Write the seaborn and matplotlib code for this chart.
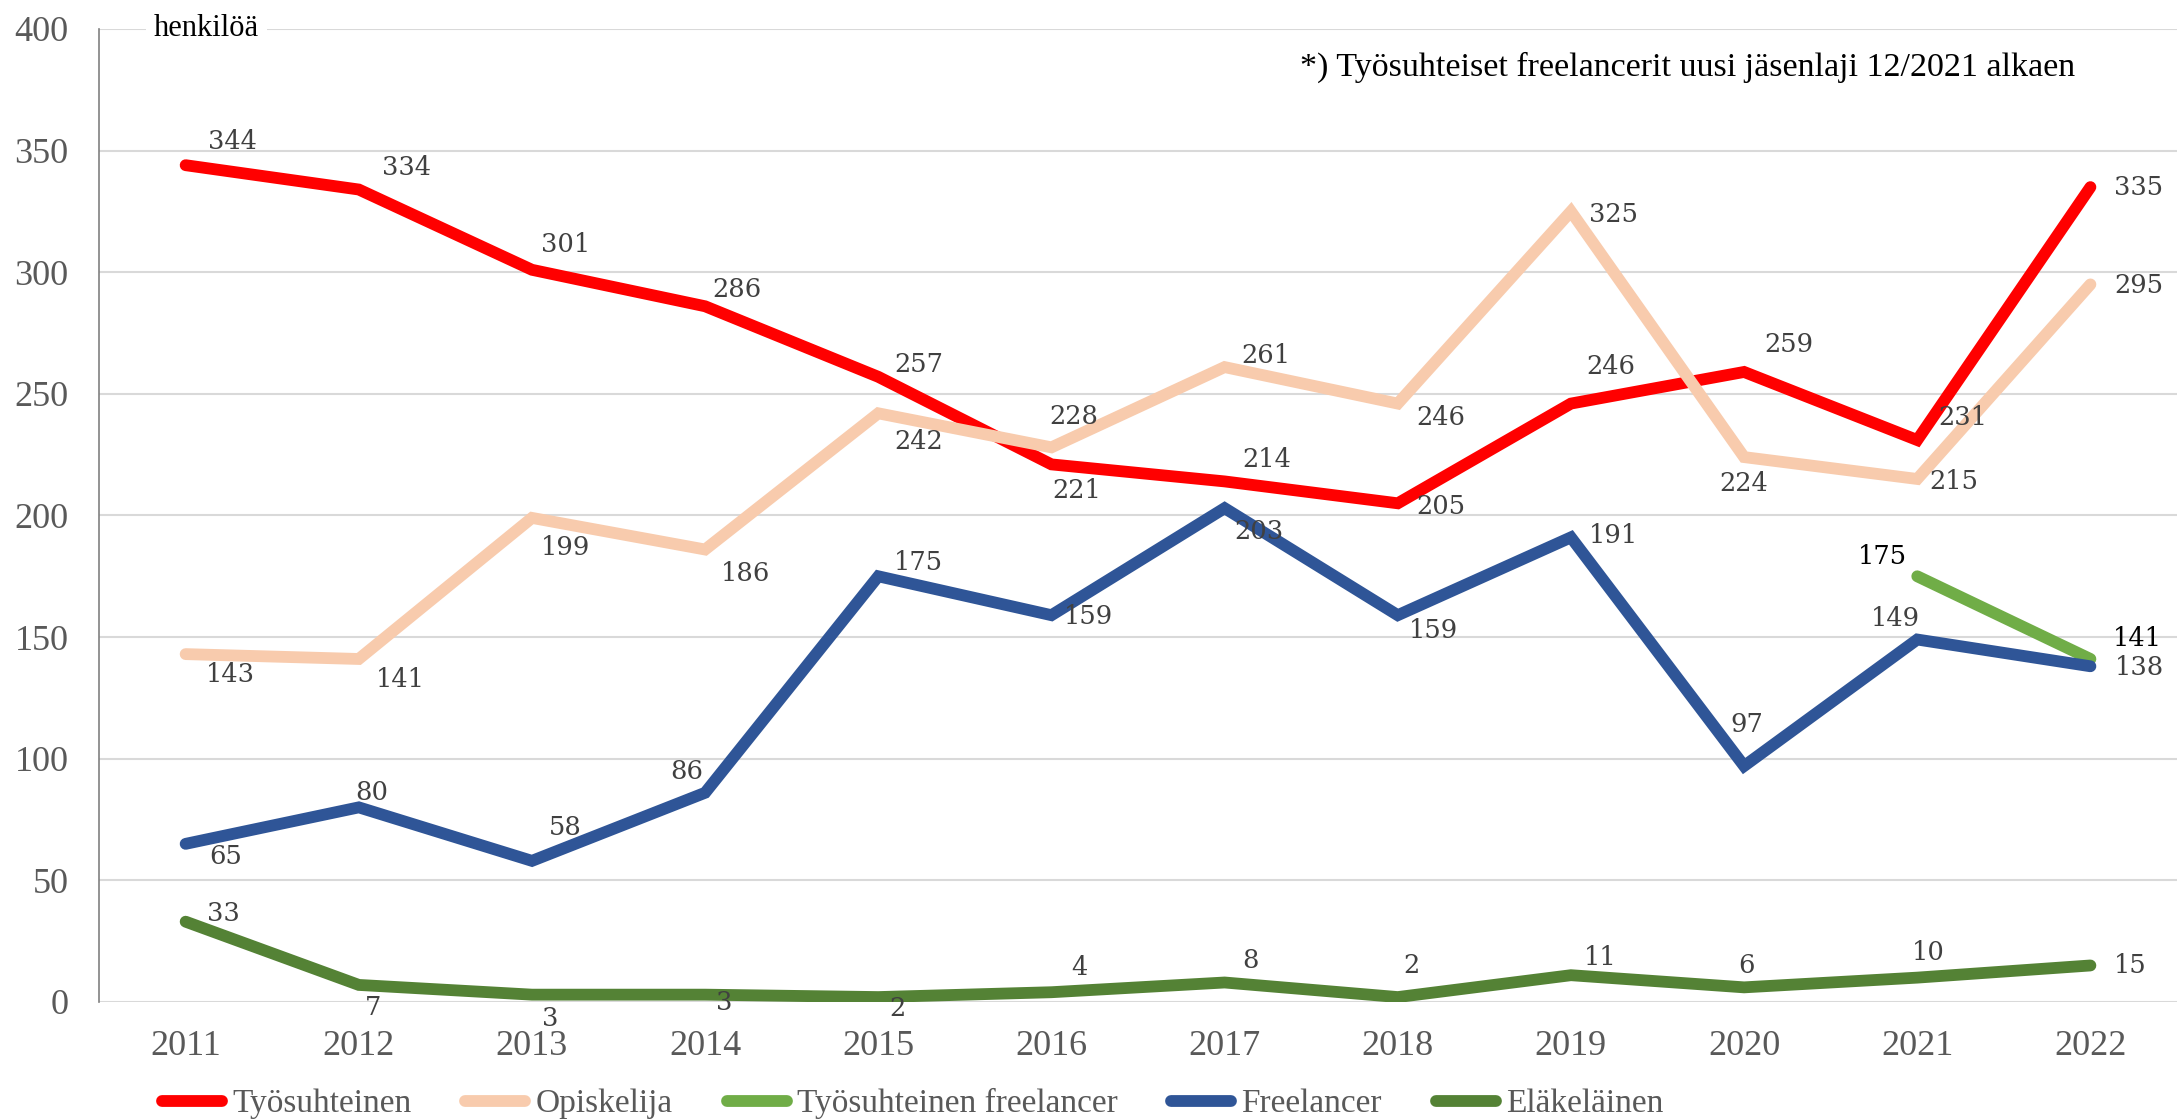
import pandas as pd
import numpy as np
import matplotlib
matplotlib.use("Agg")
import matplotlib.pyplot as plt
import seaborn as sns

# Data
years = [2011, 2012, 2013, 2014, 2015, 2016, 2017, 2018, 2019, 2020, 2021, 2022]
tyosuhteinen = [344, 334, 301, 286, 257, 221, 214, 205, 246, 259, 231, 335]
opiskelija = [143, 141, 199, 186, 242, 228, 261, 246, 325, 224, 215, 295]
ts_freelancer = [None] * 10 + [175, 141]
freelancer = [65, 80, 58, 86, 175, 159, 203, 159, 191, 97, 149, 138]
elakelainen = [33, 7, 3, 3, 2, 4, 8, 2, 11, 6, 10, 15]

series_names = ["Työsuhteinen", "Opiskelija", "Työsuhteinen freelancer", "Freelancer", "Eläkeläinen"]
series_values = [tyosuhteinen, opiskelija, ts_freelancer, freelancer, elakelainen]
colors = ["#FF0000", "#F8CBAD", "#70AD47", "#2F5597", "#548235"]

# label offsets (points) per series
offsets = {
    "Työsuhteinen": [(34, 17), (34, 16), (24, 18), (23, 12), (29, 9), (18, -19), (30, 16), (31, -2), (29, 27), (32, 20), (33, 16), (35, 0)],
    "Opiskelija": [(32, -15), (30, -15), (24, -21), (29, -17), (29, -20), (16, 22), (30, 8), (31, -10), (31, -2), (0, -19), (26, -2), (35, -1)],
    "Työsuhteinen freelancer": [None] * 10 + [(-25, 14), (34, 15)],
    "Freelancer": [(29, -9), (9, 11), (24, 24), (-13, 15), (29, 10), (27, -1), (25, -17), (26, -11), (31, 1), (2, 30), (-16, 15), (35, -1)],
    "Eläkeläinen": [(27, 6), (10, -16), (13, -17), (14, -6), (14, -8), (20, 18), (19, 16), (10, 23), (21, 13), (2, 16), (8, 18), (29, 0)],
}

rows = []
for name, vals in zip(series_names, series_values):
    for y, v in zip(years, vals):
        if v is not None:
            rows.append({"vuosi": y, "henkilöä": v, "jäsenlaji": name})
df = pd.DataFrame(rows)

sns.set_style("white")
plt.rcParams["font.family"] = ["Liberation Serif", "DejaVu Serif"]

fig = plt.figure(figsize=(21.77, 11.19), dpi=100)
ax = fig.add_axes([0.0455, 0.1046, 0.9545, 0.8695])

sns.lineplot(data=df, x="vuosi", y="henkilöä", hue="jäsenlaji", hue_order=series_names,
             palette=colors, linewidth=8.5, ax=ax, sort=False, legend=True,
             solid_capstyle="round", solid_joinstyle="miter")

ax.set_xlim(2010.5, 2022.5)
ax.set_ylim(0, 400)
ax.set_yticks(range(0, 401, 50))
ax.set_xticks(years)
ax.grid(axis="y", color="#D9D9D9", linewidth=1.5)
ax.set_axisbelow(True)
for s in ["top", "right", "bottom"]:
    ax.spines[s].set_visible(False)
ax.spines["left"].set_color("#808080")
ax.spines["left"].set_linewidth(1.2)
ax.tick_params(axis="both", length=0, colors="#595959", labelsize=26)
ax.tick_params(axis="x", pad=20)
ax.tick_params(axis="y", pad=22)
ax.set_xlabel("")
ax.set_ylabel("")

# data labels
for name, vals in zip(series_names, series_values):
    lab_color = "black" if name == "Työsuhteinen freelancer" else "#404040"
    for y, v, off in zip(years, vals, offsets[name]):
        if v is None:
            continue
        ax.annotate(str(v), (y, v), xytext=off, textcoords="offset points",
                    ha="center", va="center", fontsize=18.5, color=lab_color,
                    family="DejaVu Serif")

ax.text(2011.12, 400, "henkilöä", ha="center", va="center", fontsize=22, color="black",
        bbox=dict(facecolor="white", edgecolor="none", pad=6))
ax.text(0.7647, 0.961, "*) Työsuhteiset freelancerit uusi jäsenlaji 12/2021 alkaen",
        transform=ax.transAxes, ha="center", va="center", fontsize=24.5, color="black")

handles, labels = ax.get_legend_handles_labels()
ax.legend(handles, labels, loc="center left", bbox_to_anchor=(0.0745, 0.0135),
          bbox_transform=fig.transFigure, ncol=5, frameon=False, fontsize=24,
          handlelength=1.8, handletextpad=0.3, columnspacing=1.62,
          labelcolor="#595959", borderaxespad=0, borderpad=0)

fig.savefig("out.png", dpi=100)
